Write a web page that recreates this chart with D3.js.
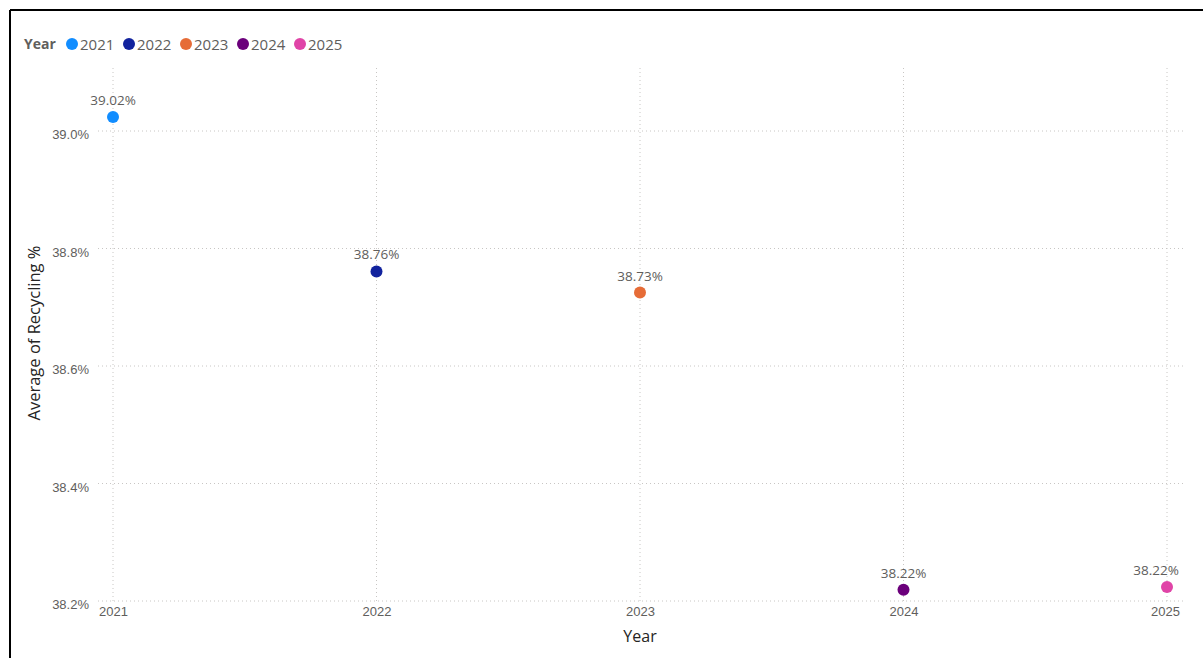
<!DOCTYPE html>
<html lang="en">
<head>
  <meta charset="UTF-8">
  <title>Average of Recycling % by Year</title>
  <script src="https://d3js.org/d3.v7.min.js"></script>
  <style>
    body { margin: 0; background: #fff; }
    svg { display: block; font-family: "Open Sans", "Noto Sans", sans-serif; }
    .grid line { stroke: #c8c6c4; stroke-dasharray: 1,3; }
    .tick text { fill: #605e5c; font-size: 13px; }
  </style>
</head>
<body>
  <svg width="1203" height="658"></svg>

  <script>
    const years = ["2021", "2022", "2023", "2024", "2025"];
    const recycling = [39.024, 38.761, 38.725, 38.219, 38.224];
    const colors = ["#118DFF", "#12239E", "#E66C37", "#6B007B", "#E044A7"];
    const yTicks = [38.2, 38.4, 38.6, 38.8, 39.0];

    const data = years.map((y, i) => ({ year: y, value: recycling[i], color: colors[i] }));

    const svg = d3.select("svg");

    // frame (only top and left edges show in the screenshot)
    svg.append("line").attr("x1", 10).attr("x2", 1203).attr("y1", 10).attr("y2", 10)
      .attr("stroke", "#000").attr("stroke-width", 2);
    svg.append("line").attr("x1", 10).attr("x2", 10).attr("y1", 10).attr("y2", 658)
      .attr("stroke", "#000").attr("stroke-width", 2);

    const x = d3.scalePoint().domain(years).range([113, 1167]);
    const y = d3.scaleLinear().domain([38.2, 39.0]).range([601, 131]);

    // grid
    const grid = svg.append("g").attr("class", "grid");
    grid.selectAll(".h").data(yTicks).enter().append("line")
      .attr("x1", 98).attr("x2", 1186)
      .attr("y1", d => y(d)).attr("y2", d => y(d));
    grid.selectAll(".v").data(years).enter().append("line")
      .attr("x1", d => x(d)).attr("x2", d => x(d))
      .attr("y1", 68).attr("y2", 601);

    // y axis
    const yAxis = svg.append("g")
      .attr("transform", "translate(89,0)")
      .call(d3.axisLeft(y).tickValues(yTicks).tickFormat(d => d.toFixed(1) + "%").tickSize(0).tickPadding(0));
    yAxis.select(".domain").remove();
    yAxis.selectAll(".tick text").attr("dy", "0.6em");

    // x axis
    const xAxis = svg.append("g")
      .attr("transform", "translate(0,604)")
      .call(d3.axisBottom(x).tickSize(0).tickPadding(3));
    xAxis.select(".domain").remove();
    xAxis.selectAll(".tick text")
      .attr("dx", (d, i) => i === years.length - 1 ? -2 : 0);

    // points
    svg.selectAll(".dot").data(data).enter().append("circle")
      .attr("cx", d => x(d.year))
      .attr("cy", d => y(d.value))
      .attr("r", 6)
      .attr("fill", d => d.color);

    // data labels
    svg.selectAll(".lbl").data(data).enter().append("text")
      .attr("x", (d, i) => x(d.year) + (i === years.length - 1 ? -11 : 0))
      .attr("y", d => y(d.value) - 12)
      .attr("text-anchor", "middle")
      .attr("fill", "#605e5c")
      .style("font-size", "13.5px")
      .text(d => d.value.toFixed(2) + "%");

    // axis titles
    svg.append("text")
      .attr("x", 640).attr("y", 642)
      .attr("text-anchor", "middle")
      .attr("fill", "#252423")
      .style("font-size", "16px")
      .text("Year");

    svg.append("text")
      .attr("transform", "rotate(-90)")
      .attr("x", -333).attr("y", 40)
      .attr("text-anchor", "middle")
      .attr("fill", "#252423")
      .style("font-size", "16.5px")
      .text("Average of Recycling %");

    // legend
    const legend = svg.append("g").attr("transform", "translate(24,44)");
    legend.append("text").attr("x", 0).attr("y", 5)
      .attr("fill", "#605e5c").style("font-size", "14px").style("font-weight", "bold")
      .text("Year");
    const items = legend.selectAll(".item").data(data).enter().append("g")
      .attr("transform", (d, i) => `translate(${48 + i * 57},0)`);
    items.append("circle").attr("r", 6).attr("fill", d => d.color);
    items.append("text").attr("x", 8).attr("y", 5.5)
      .attr("fill", "#605e5c").style("font-size", "15px")
      .text(d => d.year);
  </script>
</body>
</html>
